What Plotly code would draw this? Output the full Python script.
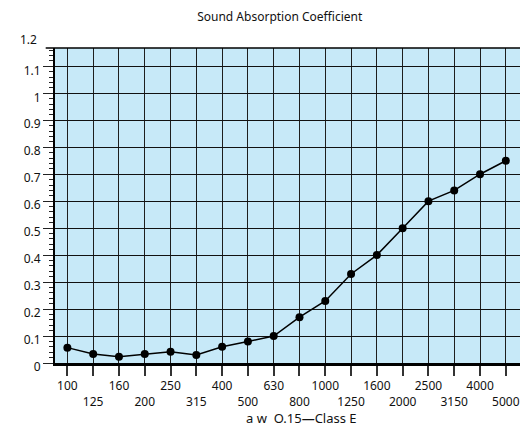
import plotly.graph_objects as go

freqs = ["100", "125", "160", "200", "250", "315", "400", "500", "630",
         "800", "1000", "1250", "1600", "2000", "2500", "3150", "4000", "5000"]
alpha = [0.057, 0.033, 0.023, 0.033, 0.042, 0.03, 0.06, 0.08, 0.10,
         0.17, 0.23, 0.33, 0.40, 0.50, 0.60, 0.64, 0.70, 0.75]
y_ticks = [0, 0.1, 0.2, 0.3, 0.4, 0.5, 0.6, 0.7, 0.8, 0.9, 1.0, 1.1]
y_labels = ["0", "0.1", "0.2", "0.3", "0.4", "0.5", "0.6", "0.7", "0.8", "0.9", "1", "1.1"]
top_label = "1.2"
title = "Sound Absorption Coefficient"
x_title = "a w  O.15<b>—</b>Class E"

tick_text = [f if i % 2 == 0 else " <br>" + f for i, f in enumerate(freqs)]
idx = list(range(len(freqs)))

FONT = "Noto Sans"
Y_MAX = 1.168

fig = go.Figure()
fig.add_trace(go.Scatter(
    x=idx, y=alpha, mode="lines+markers",
    line=dict(color="black", width=1.5),
    marker=dict(color="black", size=8),
    cliponaxis=False, hoverinfo="skip"))

fig.update_layout(
    width=520, height=433,
    margin=dict(l=55, r=0, t=48, b=70),
    paper_bgcolor="white", plot_bgcolor="#c7e9f8",
    showlegend=False,
    font=dict(family=FONT, size=12, color="#111"),
    title=dict(text=title, x=0.538, xanchor="center", y=0.962, yanchor="middle",
               font=dict(family=FONT, size=12, color="#111")),
)
fig.update_xaxes(
    range=[-0.48, 17.55], tickvals=idx, ticktext=tick_text,
    showgrid=True, gridcolor="#1e1e1e", gridwidth=1.4,
    showline=True, linecolor="black", linewidth=3,
    ticks="outside", ticklen=10, tickcolor="#333", tickwidth=1.5,
    zeroline=False, tickangle=0,
    tickfont=dict(family=FONT, size=12, color="#111"))
fig.update_yaxes(
    range=[0, Y_MAX], tickvals=y_ticks, ticktext=y_labels,
    showgrid=True, gridcolor="#111", gridwidth=1.4,
    showline=True, linecolor="black", linewidth=2,
    ticks="outside", ticklen=10, tickcolor="#222", tickwidth=1.2,
    minor=dict(dtick=0.02, ticks="outside", ticklen=4, tickcolor="#222",
               tickwidth=1, showgrid=False),
    zeroline=False, ticklabelshift=4,
    tickfont=dict(family=FONT, size=12, color="#111"))

fig.add_shape(type="line", xref="paper", yref="paper", x0=-0.02, x1=1, y0=1, y1=1,
              line=dict(color="black", width=1.5))
fig.add_annotation(text=top_label, xref="paper", yref="paper", x=-0.035, y=1.2 / Y_MAX,
                   xanchor="right", yanchor="middle", showarrow=False,
                   font=dict(family=FONT, size=12, color="#111"))
fig.add_annotation(text=x_title, xref="paper", yref="paper", x=0.53, y=-0.175,
                   xanchor="center", yanchor="middle", showarrow=False,
                   font=dict(family=FONT, size=13, color="#111"))

fig.write_html("out.html", config={"displayModeBar": False},
               post_script="document.body.style.margin='0';")
